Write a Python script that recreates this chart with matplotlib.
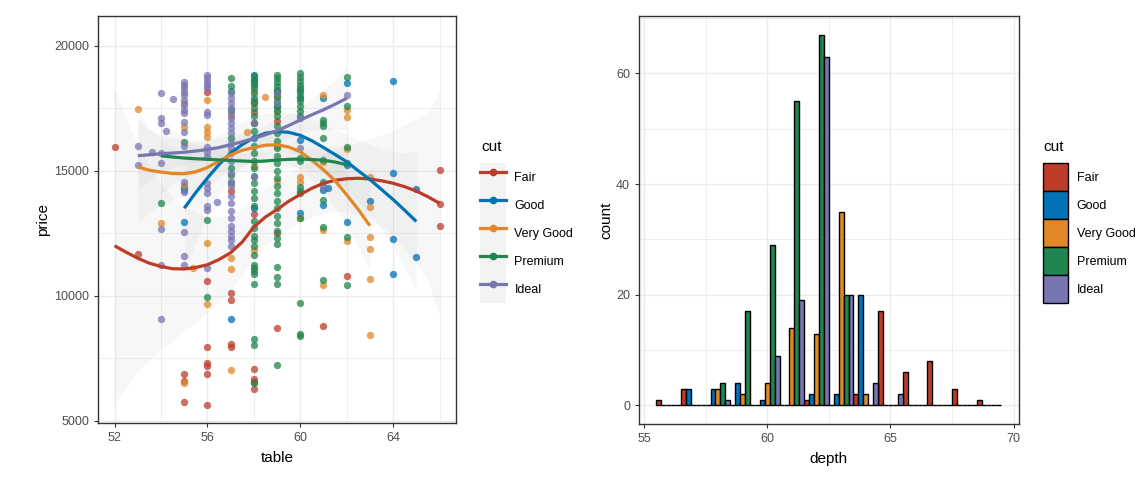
#!/usr/bin/env python3

import numpy as np
import matplotlib
matplotlib.use("Agg")
import matplotlib.pyplot as plt
import matplotlib.ticker as ticker
from matplotlib.lines import Line2D
from matplotlib.patches import Patch


# =====================================================
# PLOT STYLE
# =====================================================

plt.rcParams.update({
    "font.family": ["Liberation Sans", "DejaVu Sans"],
    "font.size": 9,
    "axes.labelsize": 11,
    "xtick.labelsize": 9,
    "ytick.labelsize": 9,
    "xtick.color": "#333333",
    "ytick.color": "#333333",
    "xtick.labelcolor": "#4D4D4D",
    "ytick.labelcolor": "#4D4D4D",
    "xtick.major.size": 3,
    "ytick.major.size": 3,
    "axes.edgecolor": "#333333",
    "axes.linewidth": 1.0,
    "figure.facecolor": "white",
})

CUTS = ["Fair", "Good", "Very Good", "Premium", "Ideal"]
COLORS = ["#BC3C29", "#0072B5", "#E18727", "#20854E", "#7876B1"]


# =====================================================
# SCATTER DATA (table, price)
# =====================================================

fair_pts = [
    (52, 15960), (53, 11680), (55, 6870), (55, 6580), (55, 5740),
    (56, 18150), (56, 10570), (56, 7930), (56, 7300), (56, 7170), (56, 6870), (56, 5620),
    (57, 14200), (57, 10110), (57, 9840), (57, 8070), (57, 7930),
    (58, 17370), (58, 13270), (58, 7070), (58, 6670), (58, 6550), (58, 6280),
    (59, 17000), (59, 12500), (59, 8720), (61, 8800), (62, 10770),
    (66, 15030), (66, 13690), (66, 12810),
]

good_pts = [
    (55, 14350), (55, 14240), (55, 12950), (57, 9070),
    (58, 18840), (58, 18640), (58, 18450), (58, 17800), (58, 16300), (58, 13500),
    (59, 17570), (59, 18200),
    (60, 18240), (60, 16240), (60, 13310), (60, 17900),
    (61, 17910), (61, 14240), (61, 13640), (61.2, 14300),
    (62, 18530), (62, 15240), (62, 12950), (63, 13800),
    (64, 18590), (64, 14910), (64, 12280), (64, 10870),
    (65, 14280), (65, 11550),
]

very_good_pts = [
    (53, 17470), (54, 12910), (55, 17710), (55, 16770), (55, 14440), (55, 6510),
    (55.4, 11110), (56, 17840), (56, 16750), (56, 16570), (56, 16370), (56, 12100),
    (56, 9670), (57, 17200), (57, 11510), (57, 11080), (57, 7010), (57.7, 16560),
    (58.5, 17950), (58, 18200), (58, 17700), (58, 16900), (58, 11840), (58, 15200),
    (59, 18000), (59, 17400), (59, 16000), (59, 14600),
    (60, 14770), (60, 14570), (60, 13100),
    (61, 18040), (61, 15370), (61, 12640), (61, 10430),
    (62, 17440), (62, 17170), (62, 15870), (62, 12170),
    (63, 14770), (63, 13570), (63, 12370), (63, 11880), (63, 10670), (63, 8440),
]

premium_pts = [
    (54, 13710), (55, 16170), (56, 13030), (56, 9930),
    (57, 18700), (57, 18380), (57, 18200), (57, 17440), (57, 16300), (57, 15100),
    (57, 14840), (57, 14500),
    (58, 18800), (58, 18650), (58, 18500), (58, 18300), (58, 18100), (58, 17900),
    (58, 17700), (58, 17500), (58, 17200), (58, 16900), (58, 16600), (58, 16000),
    (58, 15700), (58, 15400), (58, 15100), (58, 14800), (58, 14500), (58, 14200),
    (58, 13900), (58, 13600), (58, 13000), (58, 12700), (58, 12400), (58, 12240),
    (58, 11970), (58, 11640), (58, 11240), (58, 11110), (58, 10970), (58, 10880),
    (58, 10470), (58, 8270), (58, 8040), (58, 6510),
    (59, 18840), (59, 18700), (59, 18550), (59, 18400), (59, 18250), (59, 18100),
    (59, 17950), (59, 17800), (59, 17600), (59, 17400), (59, 17200), (59, 16800),
    (59, 16500), (59, 16200), (59, 15900), (59, 15600), (59, 15300), (59, 15000),
    (59, 14700), (59, 14400), (59, 14100), (59, 13800), (59, 13500), (59, 13200),
    (59, 12900), (59, 12600), (59, 12300), (59, 12070), (59, 11130), (59, 10730),
    (59, 10470), (59, 7230),
    (60, 18900), (60, 18750), (60, 18600), (60, 18450), (60, 18300), (60, 18100),
    (60, 17950), (60, 17800), (60, 17600), (60, 17400), (60, 17200), (60, 15500),
    (60, 15400), (60, 14370), (60, 14200), (60, 14100), (60, 13100), (60, 9710),
    (60, 8480), (60, 8370),
    (61, 17040), (61, 16900), (61, 16800), (61, 16310), (61, 15440), (61, 14570),
    (61, 13840), (61, 12770), (61, 10640),
    (62, 18770), (62, 17600), (62, 15970), (62, 15300), (62, 12370), (62, 10430),
]

ideal_pts = [
    (53, 15990), (53, 15240), (53.6, 15750),
    (54, 18110), (54, 17110), (54, 16910), (54, 15700), (54, 15310), (54, 12680),
    (54, 11240), (54, 9080), (54.5, 17880), (54.2, 16600),
    (55, 18570), (55, 18440), (55, 18300), (55, 18170), (55, 18040), (55, 17840),
    (55, 17640), (55, 17440), (55, 17310), (55, 16970), (55, 16570), (55, 16000),
    (55, 14570), (55, 14170), (55, 12550), (55, 11600), (55, 11240),
    (56, 18840), (56, 18700), (56, 18570), (56, 18440), (56, 18310), (56, 17370),
    (56, 17240), (56, 15970), (56, 15770), (56, 15570), (56, 14510), (56, 14310),
    (56, 14110), (56, 13610), (56, 13440), (56, 11110), (56.4, 13750),
    (57, 18100), (57, 17900), (57, 17700), (57, 17500), (57, 17300), (57, 17100),
    (57, 16900), (57, 16700), (57, 16500), (57, 16100), (57, 15900), (57, 15700),
    (57, 15400), (57, 14900), (57, 14600), (57, 14400), (57, 14000), (57, 13700),
    (57, 13400), (57, 13100), (57, 12800), (57, 12600), (57, 12400), (57, 12240),
    (57, 12000),
    (58, 16900), (58, 14770), (59, 18100), (59, 17700),
    (60, 17110), (60, 15910), (61, 14370), (62, 18040),
]

SCATTER = [fair_pts, good_pts, very_good_pts, premium_pts, ideal_pts]


# =====================================================
# SMOOTH CURVES (table, fitted price, band half-width)
# =====================================================

fair_t = [52, 52.5, 53, 53.5, 54, 54.5, 55, 55.5, 56, 56.5, 57, 57.5, 58, 58.5, 59,
          59.5, 60, 60.5, 61, 61.5, 62, 62.5, 63, 63.5, 64, 64.5, 65, 65.5, 66]
fair_fit = [12000, 11740, 11500, 11300, 11170, 11080, 11070, 11130, 11240, 11450,
            11720, 12150, 12750, 13150, 13450, 13780, 14050, 14300, 14500, 14620,
            14680, 14700, 14670, 14600, 14500, 14360, 14190, 13960, 13700]
fair_band = [6300, 5400, 4500, 3900, 3300, 2900, 2500, 2200, 1900, 1700, 1500, 1350,
             1200, 1150, 1100, 1100, 1100, 1150, 1200, 1250, 1300, 1450, 1600, 1850,
             2100, 2500, 2900, 3400, 4500]

good_t = [55, 55.5, 56, 56.5, 57, 57.5, 58, 58.5, 59, 59.5, 60, 60.5, 61, 61.5, 62,
          62.5, 63, 63.5, 64, 64.5, 65]
good_fit = [13500, 14130, 14710, 15250, 15700, 16050, 16320, 16500, 16570, 16540,
            16420, 16200, 15930, 15650, 15360, 15000, 14650, 14250, 13850, 13420, 12970]
good_band = [2600, 2000, 1500, 1200, 1000, 900, 850, 800, 800, 800, 850, 900, 950,
             1000, 1100, 1250, 1400, 1600, 1900, 2300, 2800]

very_good_t = [53, 53.5, 54, 54.5, 55, 55.5, 56, 56.5, 57, 57.5, 58, 58.5, 59, 59.5,
               60, 60.5, 61, 61.5, 62, 62.5, 63]
very_good_fit = [15150, 15020, 14950, 14890, 14880, 14960, 15130, 15380, 15640, 15820,
                 15930, 16020, 16040, 15950, 15760, 15420, 15040, 14600, 14040, 13450, 12800]
very_good_band = [2200, 1700, 1300, 1050, 900, 800, 700, 650, 600, 600, 600, 600, 620,
                  650, 700, 800, 900, 1050, 1250, 1500, 1800]

premium_t = [54, 54.5, 55, 55.5, 56, 56.5, 57, 57.5, 58, 58.5, 59, 59.5, 60, 60.5,
             61, 61.5, 62]
premium_fit = [15600, 15550, 15510, 15480, 15460, 15435, 15410, 15390, 15370, 15390,
               15430, 15455, 15470, 15450, 15420, 15350, 15240]
premium_band = [1500, 1100, 800, 600, 500, 420, 380, 350, 340, 340, 340, 350, 370,
                420, 500, 650, 900]

ideal_t = [53, 53.5, 54, 54.5, 55, 55.5, 56, 56.5, 57, 57.5, 58, 58.5, 59, 59.5, 60,
           60.5, 61, 61.5, 62]
ideal_fit = [15600, 15640, 15680, 15710, 15740, 15790, 15850, 15930, 16040, 16160,
             16300, 16440, 16600, 16810, 17030, 17240, 17440, 17660, 17900]
ideal_band = [1400, 1000, 750, 600, 500, 450, 400, 380, 370, 370, 380, 400, 430, 480,
              550, 650, 800, 1000, 1300]

CURVES = [
    (fair_t, fair_fit, fair_band),
    (good_t, good_fit, good_band),
    (very_good_t, very_good_fit, very_good_band),
    (premium_t, premium_fit, premium_band),
    (ideal_t, ideal_fit, ideal_band),
]


# =====================================================
# HISTOGRAM DATA (depth, binwidth 1)
# =====================================================

bin_centers = [56, 57, 58, 59, 60, 61, 62, 63, 64, 65, 66, 67, 68, 69]
fair_counts = [1, 3, 0, 0, 0, 0, 1, 0, 2, 17, 6, 8, 3, 1]
good_counts = [0, 3, 3, 4, 1, 0, 2, 2, 20, 0, 0, 0, 0, 0]
very_good_counts = [0, 0, 3, 2, 4, 14, 13, 35, 2, 0, 0, 0, 0, 0]
premium_counts = [0, 0, 4, 17, 29, 55, 67, 20, 0, 0, 0, 0, 0, 0]
ideal_counts = [0, 0, 1, 0, 9, 19, 63, 20, 4, 2, 0, 0, 0, 0]
BIN_WIDTH = 1.0

COUNTS = [fair_counts, good_counts, very_good_counts, premium_counts, ideal_counts]


# =====================================================
# FIGURE
# =====================================================

W, H = 1142, 492
fig = plt.figure(figsize=(W / 100, H / 100), dpi=100)
ax1 = fig.add_axes([0.0861, 0.1396, 0.3130, 0.8278])
ax2 = fig.add_axes([0.5596, 0.1382, 0.3323, 0.8290])

GRID = "#EBEBEB"

for ax in (ax1, ax2):
    ax.set_axisbelow(True)
    ax.grid(which="major", color=GRID, linewidth=1.0)
    ax.grid(which="minor", color=GRID, linewidth=0.6)
    ax.tick_params(which="minor", length=0)


# ---- left: scatter + smooth ----
for (t, fit, band), color in zip(CURVES, COLORS):
    t = np.array(t)
    fit = np.array(fit)
    band = np.array(band)
    ax1.fill_between(t, fit - band, fit + band, color="#999999", alpha=0.07,
                     linewidth=0, zorder=1)

for pts, color in zip(SCATTER, COLORS):
    arr = np.array(pts, dtype=float)
    ax1.scatter(arr[:, 0], arr[:, 1], s=28, color=color, alpha=0.75,
                linewidths=0, zorder=2)

for (t, fit, band), color in zip(CURVES, COLORS):
    ax1.plot(t, fit, color=color, linewidth=2.3, zorder=3, solid_capstyle="butt")

ax1.set_xlim(51.3, 66.7)
ax1.set_ylim(4896, 21190)
ax1.xaxis.set_major_locator(ticker.MultipleLocator(4))
ax1.xaxis.set_minor_locator(ticker.MultipleLocator(2))
ax1.yaxis.set_major_locator(ticker.MultipleLocator(5000))
ax1.yaxis.set_minor_locator(ticker.MultipleLocator(2500))
ax1.set_xlabel("table", labelpad=5)
ax1.set_ylabel("price", labelpad=3)


# ---- right: dodged histogram ----
centers = np.array(bin_centers, dtype=float)
n = len(CUTS)
bar_w = BIN_WIDTH / n
for i, (counts, color) in enumerate(zip(COUNTS, COLORS)):
    x = centers - BIN_WIDTH / 2 + (i + 0.5) * bar_w
    ax2.bar(x, counts, width=bar_w, color=color, edgecolor="black",
            linewidth=1.0, zorder=2)

ax2.set_xlim(54.8, 70.2)
ax2.set_ylim(-3.35, 70.35)
ax2.xaxis.set_major_locator(ticker.MultipleLocator(5))
ax2.xaxis.set_minor_locator(ticker.MultipleLocator(2.5))
ax2.yaxis.set_major_locator(ticker.MultipleLocator(20))
ax2.yaxis.set_minor_locator(ticker.MultipleLocator(10))
ax2.set_xlabel("depth", labelpad=5)
ax2.set_ylabel("count", labelpad=2)


# =====================================================
# LEGENDS
# =====================================================

# row height = fontsize * (0.65 * handleheight + 0.245) -> 28 px
KEY_H = 3.07

line_handles = [
    (Patch(facecolor="#F3F3F3", edgecolor="none"),
     Line2D([], [], color=c, linewidth=2.3, marker="o", markersize=4.5))
    for c in COLORS
]
fig.legend(
    line_handles, CUTS,
    loc="upper left", bbox_to_anchor=(480 / W, 1 - 163 / H),
    frameon=False, fontsize=9,
    handlelength=2.1, handleheight=KEY_H, labelspacing=0.0,
    handletextpad=0.65, borderpad=0.0, borderaxespad=0.0,
)
fig.text(481 / W, 1 - 147 / H, "cut", fontsize=11, ha="left", va="center")

patch_handles = [Patch(facecolor=c, edgecolor="black", linewidth=1.0) for c in COLORS]
fig.legend(
    patch_handles, CUTS,
    loc="upper left", bbox_to_anchor=(1043 / W, 1 - 163 / H),
    frameon=False, fontsize=9,
    handlelength=2.0, handleheight=KEY_H, labelspacing=0.0,
    handletextpad=0.7, borderpad=0.0, borderaxespad=0.0,
)
fig.text(1043 / W, 1 - 147 / H, "cut", fontsize=11, ha="left", va="center")

fig.savefig("out.png", dpi=100, facecolor="white")
